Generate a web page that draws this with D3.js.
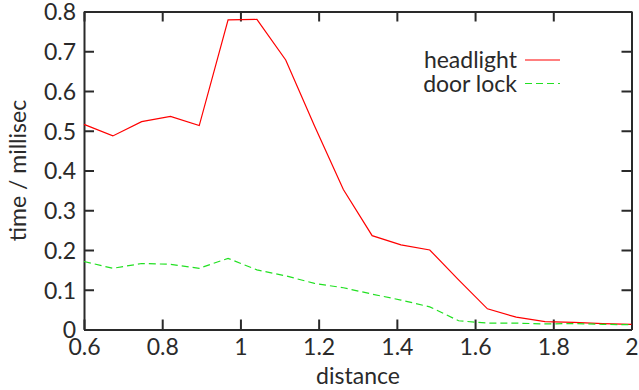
<!DOCTYPE html>
<html>
<head>
<meta charset="utf-8">
<script src="https://cdn.jsdelivr.net/npm/d3@7"></script>
<style>
  body { margin: 0; background: #fff; }
  svg { display: block; }
</style>
</head>
<body>
<svg id="chart"></svg>
<script>
// distance samples (20 points between 0.6 and 2)
const distance = [0.6, 0.6737, 0.7474, 0.8211, 0.8947, 0.9684, 1.0421, 1.1158, 1.1895, 1.2632,
                  1.3368, 1.4105, 1.4842, 1.5579, 1.6316, 1.7053, 1.7789, 1.8526, 1.9263, 2.0];
const headlight = [0.516, 0.487, 0.523, 0.536, 0.513, 0.779, 0.780, 0.678, 0.512, 0.352,
                   0.236, 0.213, 0.200, 0.125, 0.052, 0.031, 0.020, 0.018, 0.015, 0.013];
const doorLock = [0.171, 0.154, 0.166, 0.164, 0.154, 0.179, 0.150, 0.135, 0.116, 0.105,
                  0.089, 0.074, 0.057, 0.022, 0.016, 0.016, 0.014, 0.015, 0.013, 0.012];
const xTicks = [0.6, 0.8, 1, 1.2, 1.4, 1.6, 1.8, 2];
const yTicks = [0, 0.1, 0.2, 0.3, 0.4, 0.5, 0.6, 0.7, 0.8];
const seriesNames = ["headlight", "door lock"];

const width = 639, height = 390;
const margin = {top: 11.5, right: 7.5, bottom: 60.5, left: 84};
const font = "Lato, 'Open Sans', sans-serif";
const ink = "#2a2a2a";
const fontSize = 23;

const svg = d3.select("#chart")
    .attr("width", width)
    .attr("height", height)
    .attr("font-family", font);

const x = d3.scaleLinear().domain([0.6, 2]).range([margin.left, width - margin.right]);
const y = d3.scaleLinear().domain([0, 0.8]).range([height - margin.bottom, margin.top]);

const tickLen = 10;
const fmt = d => d === 0 ? "0" : String(d);

// axes (ticks point inward, mirrored on top/right)
const axes = [
  {axis: d3.axisBottom(x).tickValues(xTicks).tickFormat(fmt).tickSizeInner(-tickLen), at: `translate(0,${y(0)})`, kind: "bottom"},
  {axis: d3.axisTop(x).tickValues(xTicks).tickFormat("").tickSizeInner(-tickLen), at: `translate(0,${y(0.8)})`},
  {axis: d3.axisLeft(y).tickValues(yTicks).tickFormat(fmt).tickSizeInner(-tickLen), at: `translate(${x(0.6)},0)`, kind: "left"},
  {axis: d3.axisRight(y).tickValues(yTicks).tickFormat("").tickSizeInner(-tickLen), at: `translate(${x(2)},0)`}
];
axes.forEach(a => {
  const g = svg.append("g").attr("transform", a.at).call(a.axis.tickSizeOuter(0).tickPadding(0));
  g.select(".domain").attr("stroke", ink).attr("stroke-width", 2);
  g.selectAll(".tick line").attr("stroke", ink).attr("stroke-width", 2);
  const t = g.selectAll(".tick text").attr("fill", ink).attr("font-size", fontSize).attr("font-family", font);
  if (a.kind === "bottom") t.attr("dy", null).attr("y", 25);
  if (a.kind === "left") t.attr("x", -8).attr("dy", "0.36em");
});

const line = d3.line().x((d, i) => x(distance[i])).y(d => y(d));

svg.append("path")
    .datum(headlight)
    .attr("fill", "none")
    .attr("stroke", "#ff0000")
    .attr("stroke-width", 1.2)
    .attr("d", line);

svg.append("path")
    .datum(doorLock)
    .attr("fill", "none")
    .attr("stroke", "#22e022")
    .attr("stroke-width", 1.2)
    .attr("stroke-dasharray", "7,4")
    .attr("d", line);

// legend
const legend = svg.append("g");
const styles = [{stroke: "#ff0000", dash: null}, {stroke: "#22e022", dash: "7,4"}];
seriesNames.forEach((name, i) => {
  const ly = 60 + i * 23.5;
  legend.append("text")
      .attr("x", 517).attr("y", ly)
      .attr("dy", "0.35em")
      .attr("text-anchor", "end")
      .attr("fill", ink)
      .attr("font-size", fontSize)
      .text(name);
  legend.append("line")
      .attr("x1", 525).attr("x2", 560)
      .attr("y1", ly).attr("y2", ly)
      .attr("stroke", styles[i].stroke)
      .attr("stroke-width", 1.2)
      .attr("stroke-dasharray", styles[i].dash);
});

// axis titles
svg.append("text")
    .attr("x", 358).attr("y", 384)
    .attr("text-anchor", "middle")
    .attr("fill", ink)
    .attr("font-size", fontSize)
    .text("distance");

svg.append("text")
    .attr("transform", `translate(26,${(y(0) + y(0.8)) / 2}) rotate(-90)`)
    .attr("text-anchor", "middle")
    .attr("fill", ink)
    .attr("font-size", fontSize)
    .text("time / millisec");
</script>
</body>
</html>
